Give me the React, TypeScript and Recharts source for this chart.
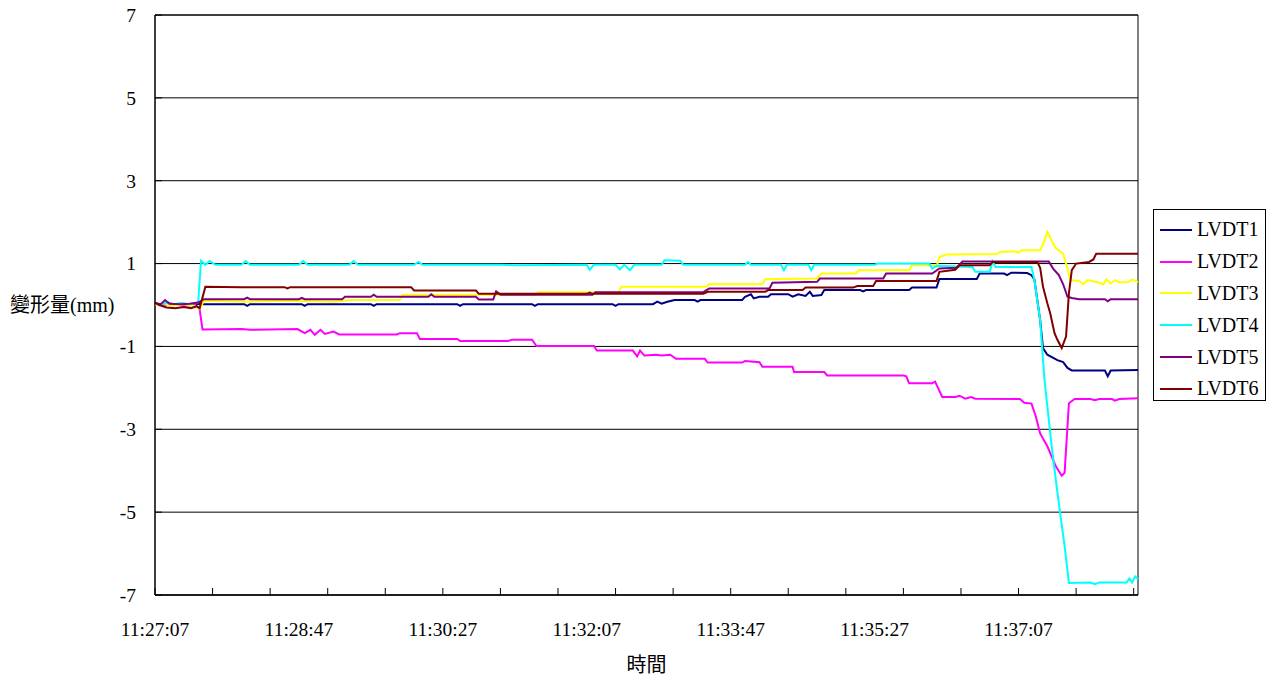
import React from 'react';
import { LineChart, Line, XAxis, YAxis, CartesianGrid, Legend, ReferenceArea, Label } from 'recharts';

// seconds after 11:27:07 as [t, mm]
const LVDT1: [number, number][] = [
  [0, 0.04], [4, 0.0], [9, 0.06], [14, 0.0], [20, 0.03], [26, 0.0], [31, 0.03], [34, 0.02],
  [62, 0.02], [64, -0.02], [66, 0.02], [102, 0.02], [104, -0.02], [106, 0.02], [150, 0.02],
  [152, -0.02], [154, 0.02], [210, 0.02], [212, -0.02], [214, 0.02], [262, 0.02], [264, -0.02],
  [266, 0.02], [318, 0.02], [320, -0.02], [322, 0.02], [346, 0.02], [349, 0.08], [352, 0.03],
  [356, 0.08], [361, 0.12], [375, 0.12], [377, 0.08], [379, 0.12], [408, 0.12], [410, 0.2],
  [414, 0.26], [416, 0.16], [420, 0.2], [426, 0.2], [428, 0.26], [440, 0.26], [443, 0.2],
  [447, 0.26], [452, 0.22], [455, 0.32], [457, 0.22], [463, 0.24], [465, 0.36], [490, 0.36],
  [492, 0.33], [494, 0.36], [524, 0.36], [526, 0.42], [543, 0.42], [545, 0.63], [571, 0.63],
  [573, 0.76], [590, 0.76], [592, 0.72], [595, 0.78], [606, 0.77], [609, 0.72], [611, 0.62],
  [615, -0.36], [617, -1.04], [620, -1.2], [627, -1.33], [631, -1.38], [634, -1.52], [637, -1.58],
  [660, -1.58], [662, -1.72], [664, -1.58], [683, -1.57],
];

const LVDT2: [number, number][] = [
  [0, 0.03], [5, 0.0], [12, 0.03], [20, -0.02], [28, 0.0], [31, -0.1], [33, -0.59], [60, -0.58],
  [66, -0.6], [99, -0.58], [104, -0.68], [108, -0.6], [111, -0.72], [115, -0.6], [118, -0.7],
  [124, -0.64], [128, -0.71], [168, -0.71], [170, -0.68], [182, -0.68], [184, -0.82], [210, -0.82],
  [212, -0.87], [245, -0.87], [248, -0.84], [262, -0.84], [265, -0.99], [305, -0.99], [307, -1.1],
  [332, -1.1], [335, -1.24], [337, -1.1], [340, -1.22], [348, -1.2], [352, -1.22], [358, -1.2],
  [362, -1.3], [382, -1.3], [384, -1.39], [408, -1.39], [410, -1.35], [420, -1.38], [422, -1.49],
  [443, -1.49], [444, -1.62], [465, -1.62], [467, -1.7], [520, -1.7], [522, -1.72], [524, -1.89],
  [540, -1.89], [542, -1.85], [547, -2.22], [556, -2.22], [559, -2.19], [563, -2.26], [567, -2.22],
  [570, -2.26], [601, -2.27], [604, -2.36], [609, -2.38], [612, -2.69], [615, -3.1], [620, -3.41],
  [626, -3.9], [630, -4.12], [632, -4.05], [635, -2.37], [639, -2.27], [650, -2.27], [653, -2.3],
  [656, -2.27], [665, -2.27], [667, -2.31], [670, -2.27], [683, -2.25],
];

const LVDT3: [number, number][] = [
  [0, 0.0], [6, 0.04], [12, -0.02], [20, 0.02], [28, -0.03], [31, -0.1], [34, 0.1], [60, 0.08],
  [90, 0.1], [125, 0.08], [135, 0.12], [170, 0.12], [172, 0.25], [264, 0.25], [266, 0.31],
  [322, 0.31], [324, 0.44], [383, 0.44], [385, 0.5], [422, 0.5], [424, 0.62], [460, 0.64],
  [463, 0.76], [487, 0.76], [489, 0.84], [524, 0.84], [526, 0.96], [541, 0.96], [543, 0.92],
  [545, 1.16], [550, 1.22], [585, 1.23], [587, 1.28], [598, 1.3], [600, 1.26], [602, 1.32],
  [615, 1.32], [618, 1.55], [620, 1.77], [623, 1.55], [626, 1.37], [631, 1.24], [633, 1.0],
  [636, 0.6], [642, 0.58], [645, 0.5], [648, 0.6], [655, 0.55], [659, 0.5], [661, 0.62],
  [664, 0.52], [667, 0.6], [670, 0.55], [676, 0.55], [679, 0.62], [683, 0.55],
];

const LVDT4: [number, number][] = [
  [0, 0.05], [4, 0.0], [8, 0.06], [13, 0.02], [18, 0.05], [24, 0.02], [30, 0.06], [32, 1.07],
  [35, 0.97], [38, 1.06], [42, 0.97], [60, 0.97], [63, 1.06], [66, 0.97], [100, 0.97], [103, 1.06],
  [106, 0.97], [135, 0.97], [138, 1.06], [141, 0.97], [180, 0.97], [183, 1.04], [186, 0.97],
  [240, 0.97], [250, 0.96], [300, 0.97], [302, 0.85], [305, 0.97], [320, 0.97], [323, 0.86],
  [326, 0.97], [330, 0.84], [333, 0.97], [352, 0.97], [354, 1.08], [365, 1.07], [367, 0.97],
  [410, 0.97], [412, 1.04], [414, 0.97], [435, 0.97], [437, 0.84], [439, 0.97], [454, 0.97],
  [456, 0.84], [458, 0.97], [500, 0.97], [502, 1.0], [538, 1.0], [540, 0.88], [543, 0.95],
  [568, 0.92], [570, 0.8], [580, 0.8], [582, 1.05], [584, 0.92], [609, 0.92], [611, 0.6],
  [615, -0.36], [618, -1.8], [623, -3.4], [627, -4.53], [632, -5.82], [635, -6.71], [650, -6.7],
  [653, -6.74], [656, -6.7], [675, -6.7], [677, -6.6], [679, -6.7], [681, -6.55], [683, -6.62],
];

const LVDT5: [number, number][] = [
  [0, 0.05], [4, 0.02], [7, 0.12], [10, 0.03], [18, 0.02], [24, 0.03], [30, 0.06], [34, 0.14],
  [62, 0.14], [64, 0.18], [66, 0.14], [100, 0.14], [102, 0.17], [104, 0.14], [130, 0.14],
  [132, 0.2], [150, 0.2], [152, 0.25], [154, 0.2], [190, 0.2], [192, 0.26], [194, 0.2], [223, 0.2],
  [225, 0.13], [235, 0.13], [237, 0.33], [240, 0.25], [304, 0.25], [306, 0.31], [381, 0.31],
  [385, 0.4], [427, 0.4], [429, 0.54], [460, 0.56], [462, 0.64], [506, 0.64], [508, 0.76],
  [540, 0.76], [545, 0.88], [557, 0.9], [561, 1.05], [621, 1.05], [624, 0.88], [628, 0.72],
  [631, 0.5], [634, 0.2], [637, 0.17], [642, 0.14], [660, 0.14], [662, 0.09], [664, 0.14],
  [683, 0.14],
];

const LVDT6: [number, number][] = [
  [0, 0.06], [3, 0.0], [8, -0.06], [14, -0.08], [20, -0.05], [25, -0.08], [29, -0.03], [31, -0.08],
  [35, 0.44], [60, 0.43], [90, 0.43], [92, 0.4], [94, 0.43], [178, 0.43], [180, 0.35], [223, 0.35],
  [225, 0.27], [300, 0.27], [302, 0.3], [304, 0.27], [381, 0.27], [384, 0.32], [424, 0.32],
  [426, 0.36], [450, 0.36], [452, 0.42], [485, 0.42], [488, 0.46], [499, 0.46], [501, 0.58],
  [543, 0.58], [545, 0.8], [556, 0.85], [559, 0.96], [580, 0.96], [582, 1.04], [613, 1.04],
  [615, 0.9], [617, 0.44], [620, 0.04], [622, -0.2], [625, -0.68], [627, -0.84], [630, -1.04],
  [633, -0.76], [635, 0.28], [637, 0.84], [640, 1.0], [649, 1.04], [652, 1.1], [654, 1.24],
  [683, 1.24],
];

const SERIES = [
  { name: 'LVDT1', color: '#000080', points: LVDT1 },
  { name: 'LVDT2', color: '#FF00FF', points: LVDT2 },
  { name: 'LVDT3', color: '#FFFF00', points: LVDT3 },
  { name: 'LVDT4', color: '#00FFFF', points: LVDT4 },
  { name: 'LVDT5', color: '#800080', points: LVDT5 },
  { name: 'LVDT6', color: '#800000', points: LVDT6 },
];

const START_SECONDS = 11 * 3600 + 27 * 60 + 7;
const END_T = 683;
const TICK_MARKS = [0, 40, 80, 120, 160, 200, 240, 280, 320, 360, 400, 440, 480, 520, 560, 600, 640, 680];
const TIME_LABELS = [0, 100, 200, 300, 400, 500, 600];
const X_TICKS = Array.from(new Set([...TICK_MARKS, ...TIME_LABELS])).sort((a, b) => a - b);
const Y_TICKS = [-7, -5, -3, -1, 1, 3, 5, 7];

const FONT = "'Liberation Serif', 'Noto Sans CJK TC', serif";

const pad = (n: number) => String(n).padStart(2, '0');
const formatTime = (t: number) => {
  const s = START_SECONDS + t;
  return `${pad(Math.floor(s / 3600))}:${pad(Math.floor((s % 3600) / 60))}:${pad(s % 60)}`;
};

// Excel style: tick marks every 40 s pointing inward, labels every 100 s
const TimeTick = (props: any) => {
  const { x, y, payload } = props;
  const t = payload.value;
  return (
    <g>
      {TICK_MARKS.includes(t) && <line x1={x} x2={x} y1={y} y2={y - 7} stroke="#000" />}
      {TIME_LABELS.includes(t) && (
        <text x={x} y={y + 41} textAnchor="middle" fill="#000" fontSize={19.5} fontFamily={FONT}>
          {formatTime(t)}
        </text>
      )}
    </g>
  );
};

const LegendBox = () => (
  <div
    style={{
      border: '1px solid #000',
      background: '#fff',
      padding: '4px 6px',
      width: 113,
      height: 192,
      boxSizing: 'border-box',
      fontFamily: FONT,
      fontSize: 20,
      color: '#000',
    }}
  >
    {SERIES.map(s => (
      <div key={s.name} style={{ display: 'flex', alignItems: 'center', height: 31.8 }}>
        <span style={{ display: 'inline-block', width: 32, height: 2, background: s.color, marginRight: 5 }} />
        <span>{s.name}</span>
      </div>
    ))}
  </div>
);

const App: React.FC = () => {
  return (
    <div style={{ position: 'absolute', left: 0, top: 0, width: 1272, height: 679, background: '#fff', fontFamily: FONT }}>
      <LineChart width={1272} height={679} margin={{ top: 15, right: 134, bottom: 0, left: 10 }}>
        <CartesianGrid vertical={false} stroke="#000" strokeDasharray="" />
        <XAxis
          type="number"
          dataKey="t"
          domain={[0, END_T]}
          ticks={X_TICKS}
          interval={0}
          height={84}
          tickLine={false}
          tickSize={0}
          tickMargin={0}
          tick={(p: any) => <TimeTick {...p} />}
          axisLine={{ stroke: '#000' }}
        >
          <Label value="時間" position="insideBottom" offset={7} fill="#000" fontSize={20} fontFamily={FONT} />
        </XAxis>
        <YAxis
          type="number"
          domain={[-7, 7]}
          ticks={Y_TICKS}
          interval={0}
          width={145}
          tickSize={-7}
          tickMargin={26}
          tick={{ fill: '#000', fontSize: 19.5, fontFamily: FONT }}
          tickLine={{ stroke: '#000' }}
          axisLine={{ stroke: '#000' }}
        >
          <Label value="變形量(mm)" position="insideLeft" offset={0} fill="#000" fontSize={20} fontFamily={FONT} />
        </YAxis>
        <ReferenceArea x1={0} x2={END_T} y1={-7} y2={7} fill="none" fillOpacity={0} stroke="#000" strokeWidth={1} />
        {SERIES.map(s => (
          <Line
            key={s.name}
            name={s.name}
            data={s.points.map(([t, v]) => ({ t, v }))}
            dataKey="v"
            type="linear"
            stroke={s.color}
            strokeWidth={2}
            dot={false}
            activeDot={false}
            isAnimationActive={false}
          />
        ))}
        <Legend
          layout="vertical"
          align="center"
          verticalAlign="middle"
          wrapperStyle={{ left: 1153, top: 209, width: 113 }}
          content={() => <LegendBox />}
        />
      </LineChart>
    </div>
  );
};

export default App;
